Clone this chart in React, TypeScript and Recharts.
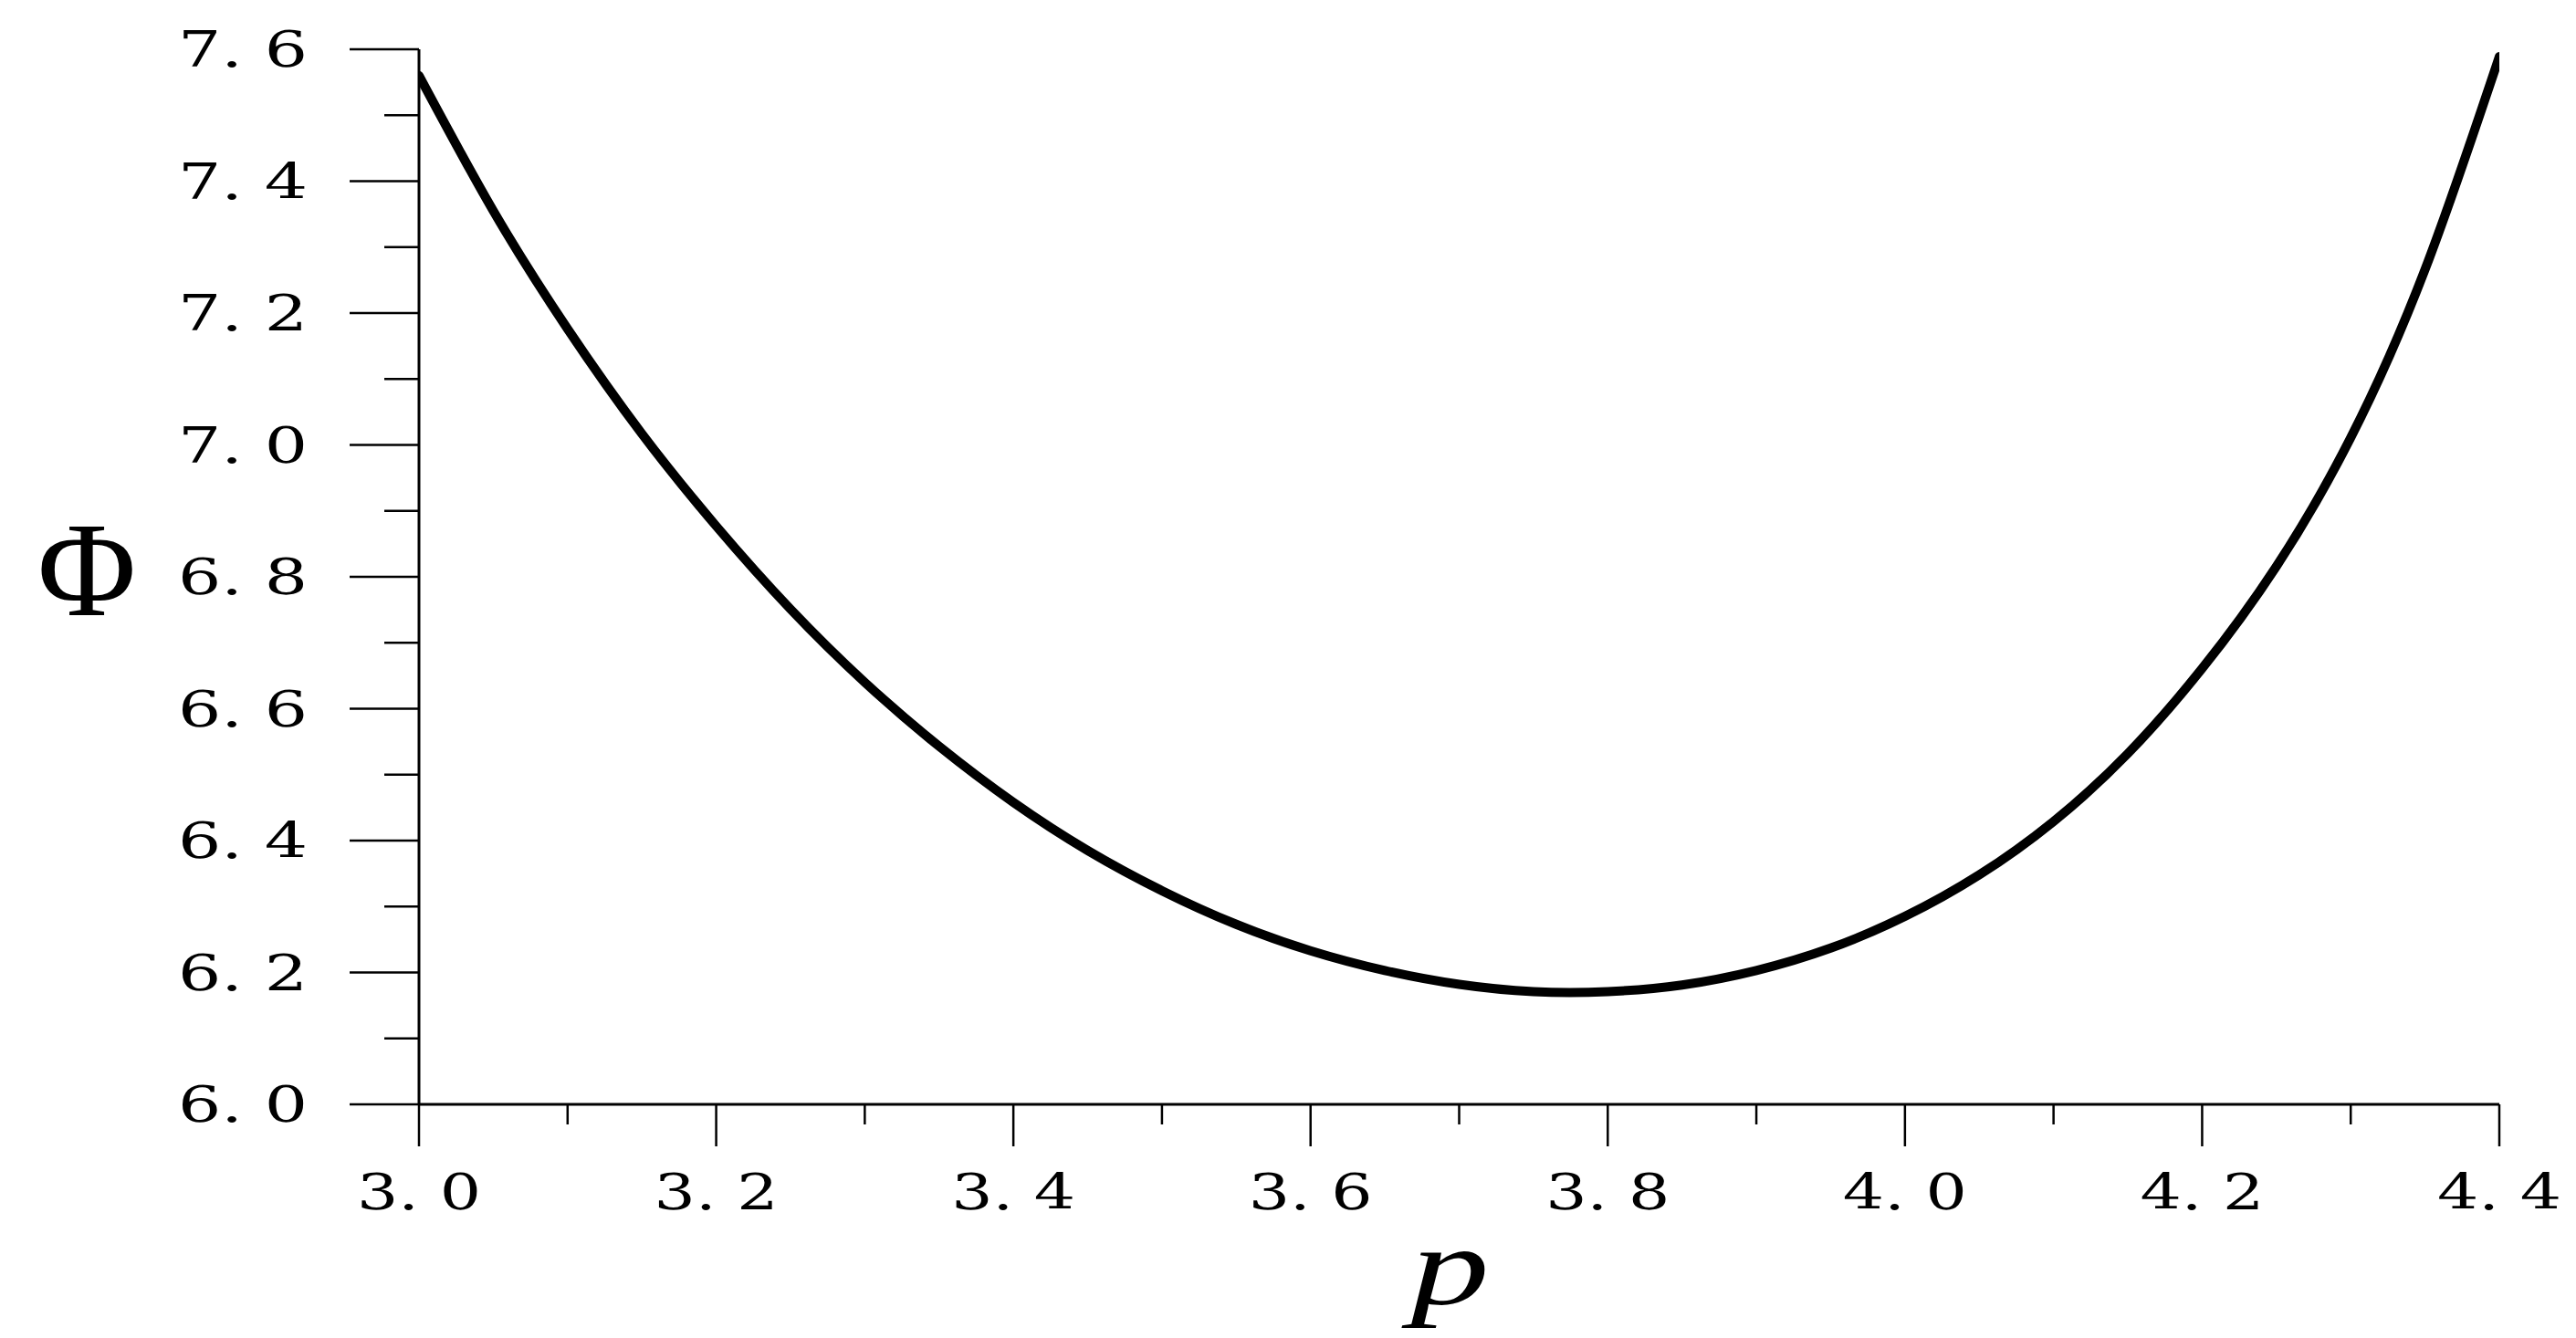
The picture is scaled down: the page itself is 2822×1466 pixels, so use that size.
import React from "react";
import { LineChart, Line, XAxis, YAxis } from "recharts";

// values
const pValues = [
  3.0, 3.05, 3.1, 3.15, 3.2, 3.25, 3.3, 3.35, 3.4, 3.45, 3.5, 3.55, 3.6, 3.65,
  3.7, 3.75, 3.8, 3.85, 3.9, 3.95, 4.0, 4.05, 4.1, 4.15, 4.2, 4.25, 4.3, 4.35, 4.4,
];
const phiValues = [
  7.56, 7.355, 7.176, 7.017, 6.877, 6.751, 6.64, 6.543, 6.458, 6.385, 6.324,
  6.273, 6.233, 6.203, 6.182, 6.171, 6.171, 6.181, 6.203, 6.237, 6.285, 6.348,
  6.429, 6.532, 6.661, 6.816, 7.011, 7.266, 7.589,
];
const xTicks = [3.0, 3.1, 3.2, 3.3, 3.4, 3.5, 3.6, 3.7, 3.8, 3.9, 4.0, 4.1, 4.2, 4.3, 4.4];
const yTicks = [6.0, 6.1, 6.2, 6.3, 6.4, 6.5, 6.6, 6.7, 6.8, 6.9, 7.0, 7.1, 7.2, 7.3, 7.4, 7.5, 7.6];

const data = pValues.map((p, i) => ({ p, phi: phiValues[i] }));

const FONT = "'DejaVu Serif', 'Liberation Serif', serif";
const isMajor = (v: number) => Math.round(v * 10) % 2 === 0;
const fmt = (v: number) => v.toFixed(1).replace(".", ". ");

function XTick(props: any) {
  const { x, y, payload } = props;
  const v = payload.value;
  const major = isMajor(v);
  return (
    <g>
      <line x1={x} y1={y} x2={x} y2={y + (major ? 46 : 22)} stroke="#000" strokeWidth={2.5} />
      {major ? (
        <text
          x={x}
          y={y + 96}
          textAnchor="middle"
          dominantBaseline="central"
          fontFamily={FONT}
          fontSize={55}
          fill="#000"
          textLength={136}
          lengthAdjust="spacingAndGlyphs"
        >
          {fmt(v)}
        </text>
      ) : null}
    </g>
  );
}

function YTick(props: any) {
  const { x, y, payload } = props;
  const v = payload.value;
  const major = isMajor(v);
  return (
    <g>
      <line x1={x - (major ? 76 : 38)} y1={y} x2={x} y2={y} stroke="#000" strokeWidth={2.5} />
      {major ? (
        <text
          x={x - 122}
          y={y}
          textAnchor="end"
          dominantBaseline="central"
          fontFamily={FONT}
          fontSize={55}
          fill="#000"
          textLength={142}
          lengthAdjust="spacingAndGlyphs"
        >
          {fmt(v)}
        </text>
      ) : null}
    </g>
  );
}

function XLabel(props: any) {
  const vb = props.viewBox || { x: 459, y: 1210, width: 2279 };
  return (
    <text
      x={vb.x + vb.width / 2 - 10}
      y={vb.y + 219}
      textAnchor="middle"
      fontFamily="'Liberation Serif', serif"
      fontStyle="italic"
      fontSize={122}
      fill="#000"
      textLength={86}
      lengthAdjust="spacingAndGlyphs"
    >
      p
    </text>
  );
}

function YLabel() {
  return (
    <text
      x={95}
      y={624}
      textAnchor="middle"
      dominantBaseline="central"
      fontFamily="'Liberation Serif', serif"
      fontSize={148}
      fill="#000"
    >
      Φ
    </text>
  );
}

export default function App() {
  return (
    <div style={{ position: "absolute", left: 0, top: 0, background: "#fff" }}>
      <LineChart
        width={2822}
        height={1466}
        data={data}
        margin={{ top: 54, right: 84, bottom: 0, left: 0 }}
      >
        <XAxis
          dataKey="p"
          type="number"
          domain={[3, 4.4]}
          ticks={xTicks}
          interval={0}
          height={256}
          tickSize={0}
          tickMargin={0}
          tickLine={false}
          tick={<XTick />}
          axisLine={{ stroke: "#000", strokeWidth: 3 }}
          allowDataOverflow
          label={<XLabel />}
        />
        <YAxis
          type="number"
          domain={[6, 7.6]}
          ticks={yTicks}
          interval={0}
          width={459}
          tickSize={0}
          tickMargin={0}
          tickLine={false}
          tick={<YTick />}
          axisLine={{ stroke: "#000", strokeWidth: 3 }}
          allowDataOverflow
          label={<YLabel />}
        />
        <Line
          dataKey="phi"
          type="natural"
          stroke="#000"
          strokeWidth={10}
          strokeLinecap="round"
          dot={false}
          activeDot={false}
          isAnimationActive={false}
        />
      </LineChart>
    </div>
  );
}
